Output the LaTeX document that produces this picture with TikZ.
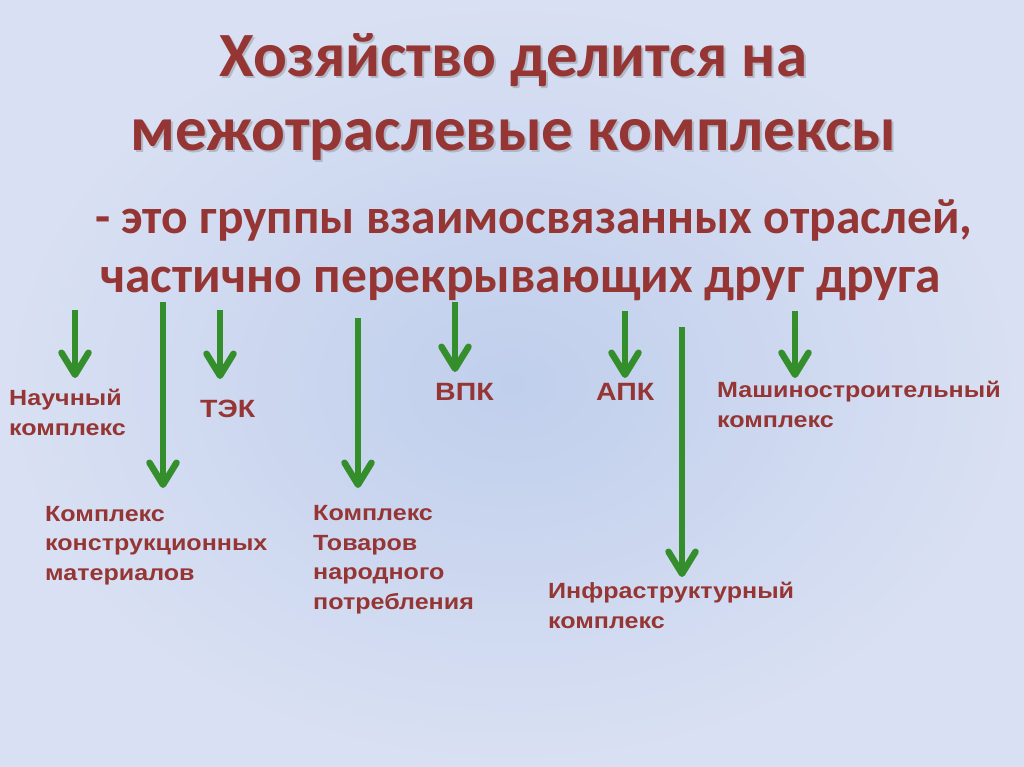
\documentclass[tikz,border=0pt]{standalone}
\usepackage{fontspec}
\usetikzlibrary{arrows.meta}
\newfontfamily\titlefont{Carlito}
\newfontfamily\labfont[FakeStretch=1.14]{Liberation Sans}
\definecolor{txtred}{RGB}{150,54,52}
\definecolor{arrgreen}{RGB}{52,142,44}
\definecolor{bgin}{RGB}{192,207,236}
\definecolor{bgout}{RGB}{217,224,243}
\tikzset{
  x=1pt, y=-1pt,
  ttl/.style={font=\titlefont\bfseries\fontsize{63}{74}\selectfont, text=txtred, align=center, inner sep=0pt, anchor=base},
  ttlshadow/.style={font=\titlefont\bfseries\fontsize{63}{74}\selectfont, text=black!55, opacity=0.35, align=center, inner sep=0pt, anchor=base},
  sub/.style={font=\titlefont\bfseries\fontsize{50}{59}\selectfont, text=txtred, align=left, inner sep=0pt, anchor=base west},
  lab/.style={font=\labfont\bfseries\fontsize{22}{29.5}\selectfont, text=txtred, align=left, inner sep=0pt, anchor=base west},
  biglab/.style={font=\labfont\bfseries\fontsize{25}{30}\selectfont, text=txtred, inner sep=0pt, anchor=base west},
  arr/.style={draw=arrgreen, line width=6.5pt, -{Straight Barb[length=22pt,width=27pt,line cap=round,line join=round]}}
}
\begin{document}
\begin{tikzpicture}
\shade[inner color=bgin, outer color=bgout] (0,0) rectangle (1024,767);
\useasboundingbox (0,0) rectangle (1024,767);

% title
\node[ttlshadow] at (515.5,153) {Хозяйство делится на\\межотраслевые комплексы};
\node[ttl] (title) at (513.5,151) {Хозяйство делится на\\межотраслевые комплексы};
\node[sub] (subtitle) at (95,292) {\fontsize{49.5}{59}\selectfont - это группы взаимосвязанных отраслей,\\\hspace*{5pt}\fontsize{51.5}{59}\selectfont частично перекрывающих друг друга};

% labels (anchored at the baseline of the last line)
\node[lab] (nauch) at (9,435) {Научный\\комплекс};
\node[biglab] (tek) at (200,417) {ТЭК};
\node[lab] (kkm) at (45,580) {Комплекс\\конструкционных\\материалов};
\node[lab] (ktnp) at (313,609) {Комплекс\\Товаров\\народного\\потребления};
\node[biglab] (vpk) at (435,400) {ВПК};
\node[biglab] (apk) at (596,400) {АПК};
\node[lab] (mash) at (717,427) {Машиностроительный\\комплекс};
\node[lab] (infra) at (548,628) {Инфраструктурный\\комплекс};

% arrow coordinates
\coordinate (s1) at (75,310);  \coordinate (e1) at (75,378);
\coordinate (s2) at (163,302); \coordinate (e2) at (163,488);
\coordinate (s3) at (220,310); \coordinate (e3) at (220,379);
\coordinate (s4) at (358,318); \coordinate (e4) at (358,488);
\coordinate (s5) at (455,302); \coordinate (e5) at (455,372);
\coordinate (s6) at (625,311); \coordinate (e6) at (625,378);
\coordinate (s7) at (682,327); \coordinate (e7) at (682,577);
\coordinate (s8) at (795,311); \coordinate (e8) at (795,378);

\draw[arr] (s1) -- (e1);
\draw[arr] (s2) -- (e2);
\draw[arr] (s3) -- (e3);
\draw[arr] (s4) -- (e4);
\draw[arr] (s5) -- (e5);
\draw[arr] (s6) -- (e6);
\draw[arr] (s7) -- (e7);
\draw[arr] (s8) -- (e8);
\end{tikzpicture}
\end{document}
